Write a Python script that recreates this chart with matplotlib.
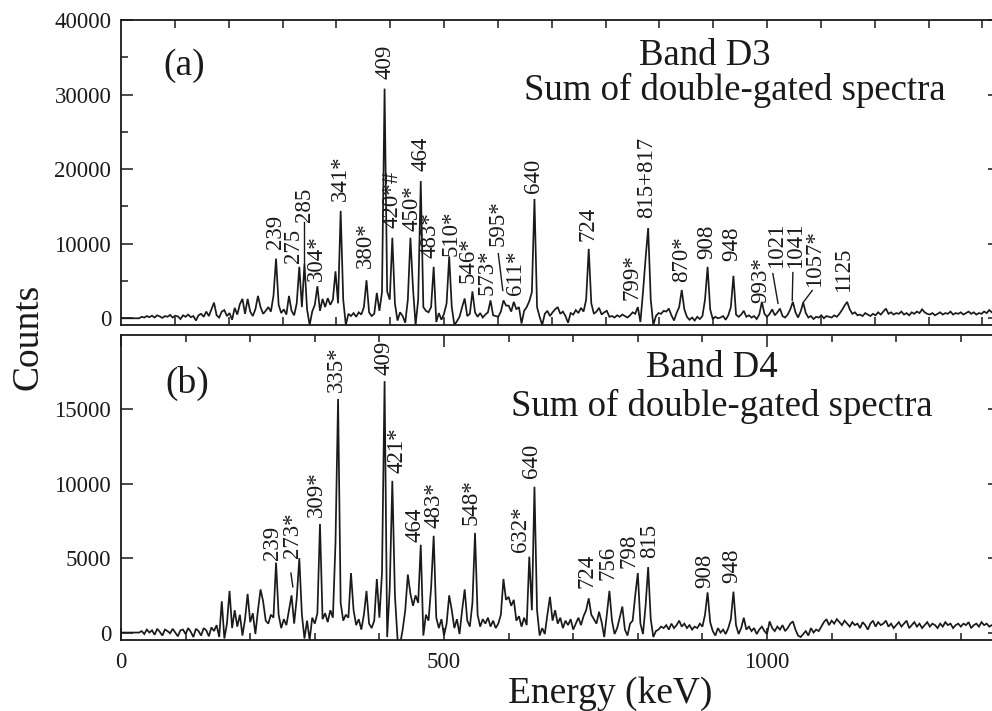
import numpy as np
import matplotlib
matplotlib.use("Agg")
import matplotlib.pyplot as plt
from matplotlib.ticker import MultipleLocator, FixedLocator, NullLocator

plt.rcParams['font.family'] = ['Liberation Serif', 'DejaVu Serif']

# Gamma-ray spectra, 4 keV per channel, starting at 0 keV
BIN_KEV = 4

band_d3_counts = [
    # 0 - 96 keV
    0, 0, 0, 0, 0, 0, 0, 0, 200, 100, 300, 150, 350, 100, 400, 250, 50, 300, 200, 450, 100, 350, 250, -100, 400,
    # 100 - 196 keV
    200, 500, 150, 300, -300, 400, 600, 200, 900, 300, 1200, 2100, 400, 100, 900, 1100, 300, 700, -200, 1400, 500, 1900, 2600, 600, 2600,
    # 200 - 296 keV
    900, 300, 1200, 3000, 1500, 600, 1000, 1500, 900, 3000, 8000, 1800, 700, 1200, 500, 3000, 1000, 400, 2000, 6900, 1500, 7300, 1200, -900, 900,
    # 300 - 396 keV
    1800, 4300, 1000, 2600, 1500, 2700, 1800, 2500, 6300, 2000, 14400, 2500, -900, 600, 300, 700, 200, 800, 500, 1500, 5100, 800, 300, 600, 3400,
    # 400 - 496 keV
    1000, 3500, 30800, 3600, 2500, 10800, 2000, -300, 800, 300, -600, 2500, 10800, 4000, -900, 2500, 18400, 1500, 1000, 800, 1500, 6900, -500, 700, -200,
    # 500 - 596 keV
    600, 2000, 8300, 1500, -900, -400, 200, 1500, 2650, 300, 600, 3600, 800, 200, 700, 100, 500, 800, 2400, 400, 300, 200, 900, 2400, 1700,
    # 600 - 696 keV
    1700, 900, 2200, 1200, 1500, -700, 1000, 1500, 2300, 3500, 16000, 1500, 200, -900, 600, 1000, 300, 800, 1200, 1500, 600, 900, 300, -600, 700,
    # 700 - 796 keV
    500, 1100, 700, 1400, 900, 2500, 9300, 2000, 600, 900, 1400, 500, 800, 1000, 200, 300, 100, 400, 200, 500, 300, 100, 400, 800, 600,
    # 800 - 896 keV
    1500, -500, 3500, 8000, 12100, 2500, -900, 300, 700, 600, 1000, 900, 1300, 400, -300, 700, 1500, 3800, 1200, 200, -200, 100, -300, 200, -100,
    # 900 - 996 keV
    300, 2500, 6900, 1200, -100, 200, 0, 100, 300, -200, 400, 1500, 5700, 500, 200, 500, 1000, 200, 400, 100, 300, -100, 500, 2200, 600,
    # 1000 - 1096 keV
    200, 600, 1200, 400, 800, 1300, 300, 100, 500, 1200, 2200, 800, 100, 900, 2100, 700, 100, 300, -100, 200, 100, 400, 0, 300, 200,
    # 1100 - 1196 keV
    100, 400, 200, 600, 1100, 1700, 2200, 1200, 600, 800, 400, 500, 300, 700, 500, 300, 600, 400, 800, 500, 900, 1300, 600, 800, 500,
    # 1200 - 1296 keV
    700, 600, 900, 500, 700, 400, 800, 600, 900, 700, 1200, 800, 600, 500, 700, 400, 600, 800, 500, 700, 600, 900, 500, 700, 600,
    # 1300 - 1356 keV
    800, 500, 700, 900, 600, 800, 500, 700, 600, 900, 700, 1100, 800, 1000, 900,
]

band_d4_counts = [
    # 0 - 96 keV
    0, 0, 0, 0, 0, 0, 0, 0, 100, -100, 200, 0, 150, -150, 250, 50, -200, 200, 100, -50, 250, 0, -250, 150, 200,
    # 100 - 196 keV
    -100, 300, 50, -300, 250, 100, -200, 300, 150, -250, 350, 100, 500, -300, 2100, -400, 600, 2800, 300, 1500, 400, 1200, -200, 900, 2600,
    # 200 - 296 keV
    700, 1300, -100, 1500, 2900, 2100, 800, 600, 1200, 1000, 4700, 1200, 300, 900, 500, 1500, 2500, 600, 2300, 5000, 1200, -400, 800, -500, 1000,
    # 300 - 396 keV
    600, 1300, 7300, 900, 1300, 700, 1500, 1000, 6000, 15700, 2000, 800, 1200, 1000, 4000, 1500, 500, 900, 200, 1200, 2800, 600, 300, 800, 3600,
    # 400 - 496 keV
    1000, 4000, 16900, -300, 3000, 10200, 2500, -400, -800, 200, 1500, 3900, 2600, 1800, 2500, 2000, 5900, -200, 1200, 800, 3000, 6500, 1000, 300, 900,
    # 500 - 596 keV
    -200, 600, 2500, 1500, 300, 900, -100, 1500, 2900, 800, 400, 2000, 6700, 1200, 400, 900, 600, 1000, 400, 800, 300, 600, 1200, 3600, 2200,
    # 600 - 696 keV
    2400, 1800, 2200, 800, 1100, 400, 1000, 500, 5100, 1500, 9800, 1500, -200, 300, -100, 1200, 2400, 800, 1500, 600, 1000, 300, 800, 500, 900,
    # 700 - 796 keV
    200, 600, 1000, 500, 1100, 1500, 2300, 1200, 900, 600, 1400, 700, -300, 1200, 2800, 800, -100, 300, 1000, 1750, 200, -200, 600, 800, 2500,
    # 800 - 896 keV
    4000, 600, -100, 1800, 4400, 900, -300, 100, 200, 400, 300, 500, 200, 600, 300, 500, 800, 400, 600, 300, 500, 200, 400, 300, 600,
    # 900 - 996 keV
    400, 1200, 2700, 700, 100, -200, 300, 0, 200, -100, 300, 900, 2750, 500, -100, 300, 1000, 200, 400, 100, 300, -100, 200, 400, 100,
    # 1000 - 1096 keV
    -100, 750, 300, 100, 400, 200, 500, 100, 300, 600, 750, 200, -200, -300, -100, 100, -200, 300, 0, 200, 100, 400, 700, 900, 500,
    # 1100 - 1196 keV
    800, 600, 900, 700, 500, 800, 600, 400, 700, 500, 600, 300, 700, 500, 200, 600, 800, 400, 700, 500, 600, 800, 400, 600, 300,
    # 1200 - 1296 keV
    500, 700, 400, 600, 800, 300, 500, 700, 400, 600, 300, 500, 700, 400, 600, 500, 300, 600, 400, 700, 500, 600, 300, 500, 600,
    # 1300 - 1356 keV
    400, 600, 500, 700, 300, 500, 600, 400, 700, 500, 600, 400, 500, 600, 500,
]

energy = np.arange(len(band_d3_counts)) * BIN_KEV

# Peak labels: (text, energy of label centre, counts at label base)
d3_labels = [
    ("239", 239, 9330), ("275", 267, 7460), ("285", 284, 12900), ("304*", 303, 5060),
    ("341*", 339, 15700), ("380*", 378, 6800), ("409", 409, 32100), ("420*#", 420, 12100),
    ("450*", 451, 11700), ("464", 464, 19700), ("483*", 479, 8100), ("510*", 511, 8400),
    ("546*", 537, 4670), ("573*", 567, 3070), ("595*", 584, 9700), ("611*", 610, 3070),
    ("640", 638, 16800), ("724", 723, 10400), ("799*", 791, 2400), ("815+817", 814, 13500),
    ("870*", 868, 4800), ("908", 906, 8000), ("948", 946, 7700), ("993*", 991, 2000),
    ("1021", 1014, 6800), ("1041", 1044, 6800), ("1057*", 1074, 4130), ("1125", 1118, 3470),
]
# Leader lines: (E1, C1, E2, C2)
d3_leaders = [
    (284, 12900, 284, 7400), (584, 8670, 591, 3730), (1009, 6000, 1017, 2000),
    (1040, 6130, 1039, 2400), (1070, 3730, 1056, 2130),
]

d4_labels = [
    ("239", 234, 4870), ("273*", 266, 5000), ("309*", 302, 7740), ("335*", 334, 16200),
    ("409", 407, 17300), ("421*", 427, 10700), ("464", 455, 6070), ("483*", 485, 7000),
    ("548*", 542, 7200), ("632*", 618, 5400), ("640", 636, 10400), ("724", 721, 3000),
    ("756", 754, 3530), ("798", 787, 4330), ("815", 818, 5000), ("908", 903, 3000),
    ("948", 946, 3330),
]
d4_leaders = [(263, 4000, 266, 3070)]

INK = '#1a1a1a'
W, H = 992, 711
fig = plt.figure(figsize=(W / 100, H / 100), dpi=100)

def frac_box(left, top, right, bottom):
    return [left / W, 1 - bottom / H, (right - left) / W, (bottom - top) / H]

ax_a = fig.add_axes(frac_box(121, 20, 999.6, 325))
ax_b = fig.add_axes(frac_box(121, 335, 999.6, 640))

for ax, counts in ((ax_a, band_d3_counts), (ax_b, band_d4_counts)):
    ax.plot(energy, counts, color=INK, lw=1.25, solid_joinstyle='miter')
    ax.set_xlim(0, 1360)
    for s in ax.spines.values():
        s.set_linewidth(1.3)
        s.set_color(INK)
    ax.tick_params(which='both', direction='in', top=True, right=True,
                   colors=INK, labelsize=16.5, width=1.1)
    ax.tick_params(which='major', length=8.5)
    ax.tick_params(which='minor', length=5)

# Panel (a)
ax_a.set_ylim(-900, 40000)
ax_a.yaxis.set_major_locator(MultipleLocator(10000))
ax_a.yaxis.set_minor_locator(MultipleLocator(5000))
ax_a.xaxis.set_major_locator(NullLocator())
ax_a.xaxis.set_minor_locator(FixedLocator(np.arange(1, 17) * 1000 / 12))
ax_a.tick_params(axis='y', pad=7)
ax_a.tick_params(axis='x', which='minor', length=6)

# Panel (b)
ax_b.set_ylim(-500, 20000)
ax_b.yaxis.set_major_locator(FixedLocator([0, 5000, 10000, 15000]))
ax_b.yaxis.set_minor_locator(NullLocator())
ax_b.xaxis.set_major_locator(MultipleLocator(500))
ax_b.xaxis.set_minor_locator(MultipleLocator(100))
ax_b.tick_params(axis='y', pad=7)
ax_b.tick_params(axis='x', pad=9)

for ax, labels, leaders in ((ax_a, d3_labels, d3_leaders), (ax_b, d4_labels, d4_leaders)):
    for txt, e, c in labels:
        ax.text(e, c, txt, rotation=90, ha='center', va='bottom',
                fontsize=16.5, color=INK)
    for e1, c1, e2, c2 in leaders:
        ax.plot([e1, e2], [c1, c2], color=INK, lw=1.0)

ax_a.text(0.048, 0.82, "(a)", transform=ax_a.transAxes, fontsize=27, color=INK,
          ha='left', va='baseline')
ax_a.text(0.664, 0.852, "Band D3", transform=ax_a.transAxes, fontsize=26.5, color=INK,
          ha='center', va='baseline')
ax_a.text(0.699, 0.738, "Sum of double-gated spectra", transform=ax_a.transAxes,
          fontsize=26.5, color=INK, ha='center', va='baseline')

ax_b.text(0.050, 0.81, "(b)", transform=ax_b.transAxes, fontsize=27, color=INK,
          ha='left', va='baseline')
ax_b.text(0.673, 0.862, "Band D4", transform=ax_b.transAxes, fontsize=26.5, color=INK,
          ha='center', va='baseline')
ax_b.text(0.684, 0.734, "Sum of double-gated spectra", transform=ax_b.transAxes,
          fontsize=26.5, color=INK, ha='center', va='baseline')

fig.text(28 / W, 1 - 337 / H, "Counts", rotation=90, ha='center', va='center',
         fontsize=27, color=INK)
fig.text(610 / W, 1 - 703 / H, "Energy (keV)", ha='center', va='baseline',
         fontsize=27, color=INK)

fig.savefig("out.png", dpi=100)
